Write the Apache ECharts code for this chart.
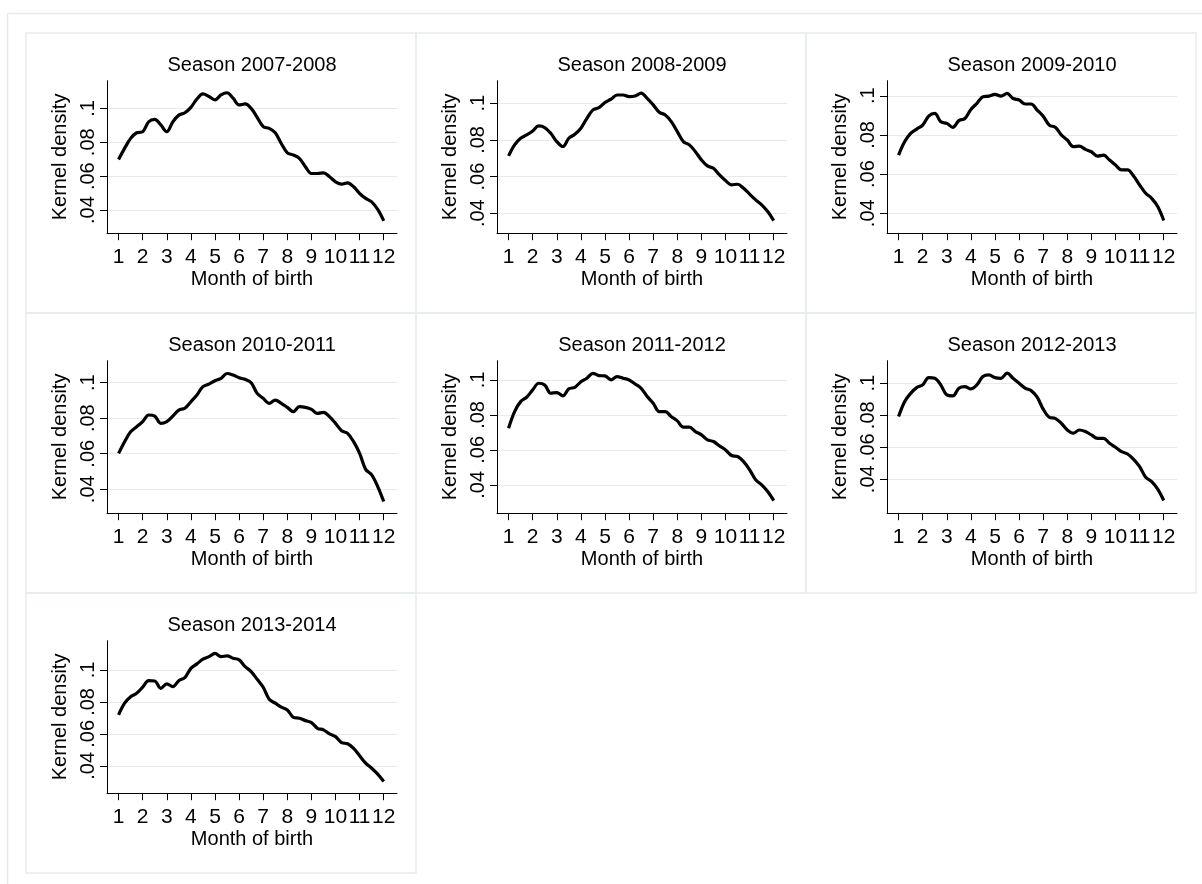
<!DOCTYPE html>
<html>
<head>
<meta charset="utf-8">
<script src="https://cdn.jsdelivr.net/npm/echarts@6/dist/echarts.min.js"></script>
<style>
  html, body { margin: 0; padding: 0; background: #fff; }
  #chart { width: 1202px; height: 884px; }
</style>
</head>
<body>
<div id="chart"></div>
<script>
const seasons = ['Season 2007-2008', 'Season 2008-2009', 'Season 2009-2010', 'Season 2010-2011',
  'Season 2011-2012', 'Season 2012-2013', 'Season 2013-2014'];

// points where the curves were read, in months
const monthGrid = [1, 1.25, 1.5, 1.75, 2, 2.25, 2.5, 2.75, 3, 3.25, 3.5, 3.75, 4, 4.25, 4.5, 4.75,
  5, 5.25, 5.5, 5.75, 6, 6.25, 6.5, 6.75, 7, 7.25, 7.5, 7.75, 8, 8.25, 8.5, 8.75,
  9, 9.25, 9.5, 9.75, 10, 10.25, 10.5, 10.75, 11, 11.25, 11.5, 11.75, 12];

const density0708 = [0.0699, 0.0764, 0.0823, 0.0856, 0.0862, 0.0921, 0.0935, 0.0902, 0.0862, 0.0920, 0.0960, 0.0974,
  0.1006, 0.1055, 0.1085, 0.1070, 0.1050, 0.1079, 0.1092, 0.1060, 0.1020, 0.1026, 0.1000, 0.0947, 0.0892, 0.0882,
  0.0856, 0.0793, 0.0738, 0.0725, 0.0705, 0.0656, 0.0616, 0.0616, 0.0620, 0.0597, 0.0567, 0.0553, 0.0561, 0.0538,
  0.0498, 0.0469, 0.0449, 0.0404, 0.0337];
const density0809 = [0.0713, 0.0773, 0.0809, 0.0827, 0.0849, 0.0876, 0.0867, 0.0836, 0.0791, 0.0764, 0.0809, 0.0831,
  0.0864, 0.0918, 0.0964, 0.0976, 0.1004, 0.1022, 0.1045, 0.1045, 0.1036, 0.1040, 0.1055, 0.1027, 0.0991, 0.0951,
  0.0936, 0.0900, 0.0845, 0.0791, 0.0773, 0.0736, 0.0691, 0.0658, 0.0645, 0.0609, 0.0578, 0.0555, 0.0558, 0.0536,
  0.0504, 0.0473, 0.0445, 0.0409, 0.0360];
const density0910 = [0.0697, 0.0765, 0.0808, 0.0830, 0.0850, 0.0896, 0.0910, 0.0867, 0.0859, 0.0839, 0.0873, 0.0884,
  0.0930, 0.0961, 0.0995, 0.0998, 0.1007, 0.0998, 0.1012, 0.0986, 0.0978, 0.0958, 0.0958, 0.0927, 0.0896, 0.0850,
  0.0839, 0.0800, 0.0774, 0.0740, 0.0743, 0.0726, 0.0714, 0.0692, 0.0697, 0.0672, 0.0646, 0.0621, 0.0621, 0.0590,
  0.0544, 0.0502, 0.0476, 0.0434, 0.0363];
const density1011 = [0.0602, 0.0668, 0.0724, 0.0752, 0.0781, 0.0818, 0.0812, 0.0771, 0.0781, 0.0812, 0.0846, 0.0856,
  0.0893, 0.0931, 0.0978, 0.0992, 0.1011, 0.1024, 0.1052, 0.1043, 0.1028, 0.1019, 0.1000, 0.0940, 0.0912, 0.0884,
  0.0902, 0.0884, 0.0861, 0.0837, 0.0865, 0.0861, 0.0850, 0.0827, 0.0833, 0.0809, 0.0771, 0.0730, 0.0715, 0.0668,
  0.0602, 0.0512, 0.0481, 0.0415, 0.0331];
const density1112 = [0.0724, 0.0819, 0.0876, 0.0901, 0.0943, 0.0981, 0.0971, 0.0924, 0.0928, 0.0909, 0.0949, 0.0958,
  0.0990, 0.1010, 0.1038, 0.1025, 0.1023, 0.1000, 0.1019, 0.1010, 0.1000, 0.0977, 0.0952, 0.0905, 0.0867, 0.0819,
  0.0819, 0.0790, 0.0766, 0.0730, 0.0730, 0.0705, 0.0686, 0.0657, 0.0648, 0.0623, 0.0600, 0.0568, 0.0562, 0.0533,
  0.0486, 0.0429, 0.0400, 0.0362, 0.0310];
const density1213 = [0.0792, 0.0885, 0.0937, 0.0973, 0.0990, 0.1035, 0.1031, 0.0990, 0.0927, 0.0921, 0.0969, 0.0979,
  0.0965, 0.0990, 0.1042, 0.1052, 0.1035, 0.1031, 0.1063, 0.1031, 0.1000, 0.0969, 0.0954, 0.0913, 0.0838, 0.0788,
  0.0781, 0.0750, 0.0708, 0.0688, 0.0708, 0.0698, 0.0677, 0.0656, 0.0656, 0.0625, 0.0600, 0.0573, 0.0558, 0.0525,
  0.0479, 0.0413, 0.0385, 0.0338, 0.0267];
const density1314 = [0.0719, 0.0792, 0.0833, 0.0854, 0.0892, 0.0933, 0.0931, 0.0885, 0.0913, 0.0896, 0.0933, 0.0952,
  0.1010, 0.1038, 0.1067, 0.1083, 0.1104, 0.1083, 0.1088, 0.1073, 0.1063, 0.1021, 0.0990, 0.0942, 0.0892, 0.0817,
  0.0792, 0.0767, 0.0750, 0.0704, 0.0698, 0.0683, 0.0671, 0.0635, 0.0625, 0.0600, 0.0583, 0.0546, 0.0538, 0.0510,
  0.0463, 0.0417, 0.0385, 0.0348, 0.0302];

const densities = [density0708, density0809, density0910, density1011, density1112, density1213, density1314];

const xTicks = [1, 2, 3, 4, 5, 6, 7, 8, 9, 10, 11, 12];
const yTicks = [0.04, 0.06, 0.08, 0.1];
const yTickLabels = ['.04', '.06', '.08', '.1'];

// each panel's y range, as Stata drew it
const yRanges = [[0.0264, 0.1163], [0.0291, 0.1123], [0.0298, 0.1077], [0.0265, 0.1124],
  [0.0238, 0.1110], [0.0188, 0.1141], [0.0229, 0.1183]];

const font = "'Liberation Sans', Arial, sans-serif";
const panelW = 390, panelH = 280;
const panelX = 26, panelY = 33;

const chart = echarts.init(document.getElementById('chart'));

const grids = [], xAxes = [], yAxes = [], series = [], titles = [], frames = [];

seasons.forEach((name, i) => {
  const col = i % 3, row = Math.floor(i / 3);
  const gx = panelX + col * panelW + 81;
  const gy = panelY + row * panelH + 47.7;
  grids.push({ left: gx, top: gy, width: 290, height: 152.5 });

  titles.push({
    text: name,
    left: gx + 145,
    top: panelY + row * panelH + 22,
    padding: 0,
    textAlign: 'center',
    textStyle: { fontFamily: font, fontSize: 20, fontWeight: 'normal', color: '#000' }
  });

  xAxes.push({
    type: 'value', gridIndex: i, min: 0.52, max: 12.55,
    name: 'Month of birth', nameLocation: 'middle', nameGap: 33,
    nameTextStyle: { fontFamily: font, fontSize: 20, color: '#000' },
    axisLine: { show: true, lineStyle: { color: '#000', width: 1 } },
    axisTick: { show: true, length: 7, customValues: xTicks, lineStyle: { color: '#000' } },
    axisLabel: { customValues: xTicks, margin: 14, fontFamily: font, fontSize: 21, color: '#000' },
    splitLine: { show: false }
  });

  yAxes.push({
    type: 'value', gridIndex: i, min: yRanges[i][0], max: yRanges[i][1],
    name: 'Kernel density', nameLocation: 'middle', nameGap: 37,
    nameTextStyle: { fontFamily: font, fontSize: 20, color: '#000' },
    axisLine: { show: true, lineStyle: { color: '#000', width: 1 } },
    axisTick: { show: true, length: 7, customValues: yTicks, lineStyle: { color: '#000' } },
    axisLabel: {
      customValues: yTicks, rotate: 90, margin: 9, fontFamily: font, fontSize: 20, color: '#000',
      formatter: v => yTickLabels[yTicks.findIndex(t => Math.abs(t - v) < 1e-9)]
    },
    splitLine: { show: true, lineStyle: { color: '#e3ebee', width: 1.2 } }
  });

  series.push({
    type: 'line', xAxisIndex: i, yAxisIndex: i,
    data: monthGrid.map((m, k) => [m, densities[i][k]]),
    smooth: 0.35, showSymbol: false, silent: true,
    lineStyle: { color: '#000', width: 3.2 }
  });

  frames.push({
    type: 'rect', silent: true,
    shape: { x: panelX + col * panelW, y: panelY + row * panelH, width: panelW, height: panelH },
    style: { fill: 'none', stroke: '#e6ecee', lineWidth: 1.5 }
  });
});

// outer graph region frame
frames.unshift({
  type: 'rect', silent: true,
  shape: { x: 7.5, y: 13.5, width: 1200, height: 880 },
  style: { fill: 'none', stroke: '#e6ecee', lineWidth: 1.5 }
});

chart.setOption({
  animation: false,
  backgroundColor: '#fff',
  title: titles,
  graphic: frames,
  grid: grids,
  xAxis: xAxes,
  yAxis: yAxes,
  series: series
});
</script>
</body>
</html>
